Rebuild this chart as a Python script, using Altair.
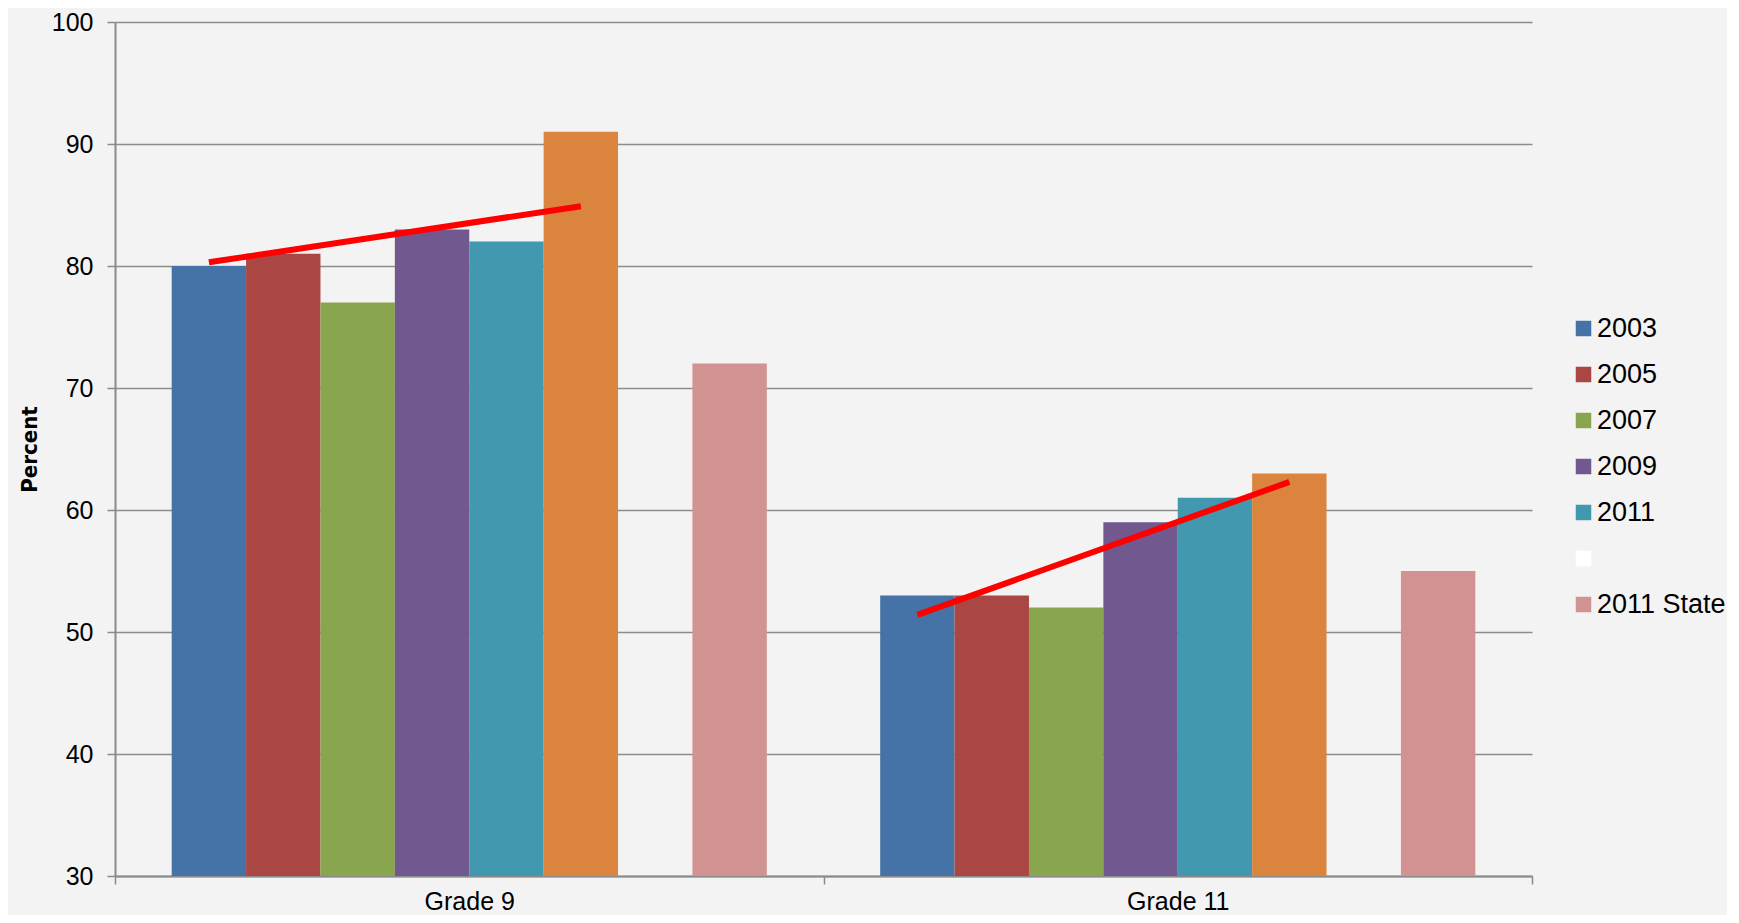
import altair as alt
import pandas as pd

grades = ["Grade 9", "Grade 11"]
series = ["2003", "2005", "2007", "2009", "2011", "2013", " ", "2011 State"]
colors = ["#4572a7", "#aa4643", "#89a54e", "#71588f", "#4198af", "#db843d", "#ffffff", "#d19392"]
grade9 = [80, 81, 77, 83, 82, 91, None, 72]
grade11 = [53, 53, 52, 59, 61, 63, None, 55]
legend_values = ["2003", "2005", "2007", "2009", "2011", " ", "2011 State"]
y_ticks = [30, 40, 50, 60, 70, 80, 90, 100]

trend_grade = ["Grade 9", "Grade 9", "Grade 11", "Grade 11"]
trend_series = ["2003", "2013", "2003", "2013"]
trend_values = [80.3, 84.9, 51.4, 62.3]

rows = []
for g, vals in zip(grades, [grade9, grade11]):
    for s, v in zip(series, vals):
        if v is not None:
            rows.append({"grade": g, "series": s, "value": v})
bars_df = pd.DataFrame(rows)
trend_df = pd.DataFrame({"grade": trend_grade, "series": trend_series, "value": trend_values})

narrow = "DejaVu Sans Condensed, Liberation Sans, sans-serif"
sans = "Liberation Sans, Arial, sans-serif"

x_enc = alt.X(
    "grade:N",
    sort=grades,
    scale=alt.Scale(domain=grades, paddingInner=0, paddingOuter=0),
    axis=alt.Axis(
        title=None,
        tickBand="extent",
        labelFont=sans,
        labelFontSize=25,
        labelColor="#000000",
        labelPadding=5,
        tickSize=8,
        domainWidth=2,
        labelAngle=0,
    ),
)
xoff_enc = alt.XOffset(
    "series:N",
    scale=alt.Scale(domain=series, paddingInner=0, paddingOuter=0.762),
)
y_enc = alt.Y(
    "value:Q",
    scale=alt.Scale(domain=[30, 100], zero=False, nice=False),
    axis=alt.Axis(
        values=y_ticks,
        title="Percent",
        titleFont=narrow,
        titleFontWeight="bold",
        titleFontSize=22,
        titleColor="#000000",
        titlePadding=10,
        labelFont=sans,
        labelFontSize=25,
        labelColor="#000000",
        labelPadding=14,
        tickSize=8,
        grid=True,
    ),
)

bars = alt.Chart(bars_df).mark_bar().encode(
    x=x_enc,
    xOffset=xoff_enc,
    y=y_enc,
    y2=alt.datum(30),
    color=alt.Color(
        "series:N",
        scale=alt.Scale(domain=series, range=colors),
        legend=alt.Legend(
            values=legend_values,
            title=None,
            orient="none",
            legendX=1455,
            legendY=293,
            symbolType="square",
            symbolSize=240,
            symbolStrokeWidth=0,
            labelFont=sans,
            labelFontSize=27,
            labelColor="#000000",
            labelOffset=0,
            rowPadding=18,
        ),
    ),
)

trend = alt.Chart(trend_df).mark_line(color="#ff0000", strokeWidth=6, strokeCap="butt").encode(
    x=alt.X("grade:N", sort=grades),
    xOffset=alt.XOffset("series:N"),
    y=alt.Y("value:Q"),
    detail="grade:N",
)

chart = (
    alt.layer(bars, trend)
    .properties(
        width=1417,
        height=854,
        autosize=alt.AutoSizeParams(type="none"),
        padding={"left": 107, "top": 14, "right": 195, "bottom": 39},
        background="#f3f3f3",
    )
    .configure_view(stroke=None)
    .configure_axis(
        gridColor="#8c8c8c",
        gridWidth=1.5,
        domainColor="#8a8a8a",
        domainWidth=2,
        tickColor="#8a8a8a",
        tickWidth=1.5,
    )
)

chart.save("out.html", embed_options={"renderer": "svg", "actions": False})
